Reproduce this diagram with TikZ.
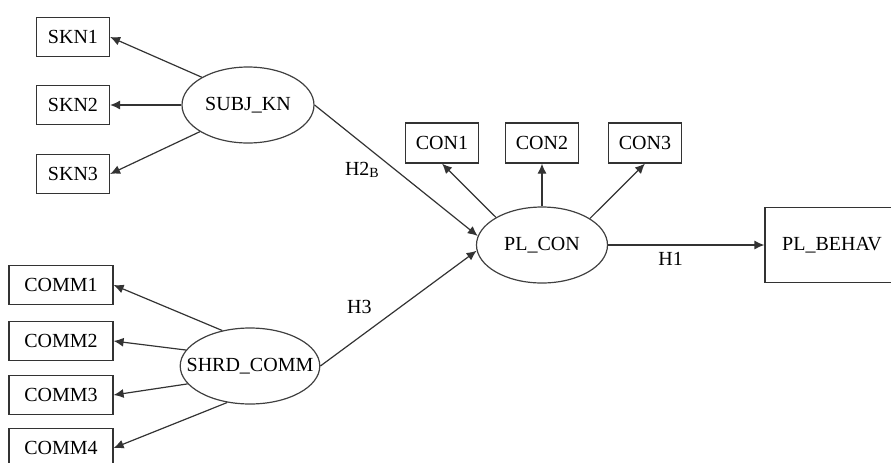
\documentclass[tikz,border=0pt]{standalone}
\usepackage{fontspec}
\setmainfont{Liberation Serif}
\usetikzlibrary{shapes.geometric, positioning, arrows.meta}

\begin{document}
\begin{tikzpicture}[x=0.5pt, y=-0.5pt, on grid, >={Latex[length=5pt,width=4.5pt]},
    every node/.style={font=\fontsize{10}{12}\selectfont},
    ind/.style={draw=black!80, line width=0.6pt, rectangle, inner sep=0pt, minimum height=19.5pt},
    skn/.style={ind, minimum width=36.5pt},
    comm/.style={ind, minimum width=52pt},
    con/.style={ind, minimum width=36.5pt, minimum height=20pt},
    latent/.style={draw=black!75, line width=0.6pt, ellipse, inner xsep=-7pt, inner ysep=0pt, minimum width=66pt, minimum height=38pt}]
        \useasboundingbox (0,0) rectangle (891,462);

        \node[latent] (subjkn) at (248,105) {SUBJ\_KN};
        \node[latent] (shrdcomm) at (250,366) {SHRD\_COMM};
        \node[latent, minimum width=65.5pt] (plcon) at (542,245) {PL\_CON};

        \node[skn] (skn2) [left=87.5pt of subjkn] {SKN2};
        \node[skn] (skn1) [above=34pt of skn2] {SKN1};
        \node[skn] (skn3) [below=34.5pt of skn2] {SKN3};

        \node[comm] (comm2) [above left=12.5pt and 94.5pt of shrdcomm] {COMM2};
        \node[comm] (comm1) [above=28pt of comm2] {COMM1};
        \node[comm] (comm3) [below=27pt of comm2] {COMM3};
        \node[comm] (comm4) [below=26.5pt of comm3] {COMM4};

        \node[con] (con2) [above=51pt of plcon] {CON2};
        \node[con] (con1) [left=50pt of con2] {CON1};
        \node[con] (con3) [right=51.5pt of con2] {CON3};

        \node[ind, minimum width=67pt, minimum height=37.5pt] (plbehav) [right=145pt of plcon] {PL\_BEHAV};

        \path[->, line width=0.6pt, every edge/.append style={draw=black!80}]
            (subjkn.149) edge (skn1.east)
            (subjkn) edge (skn2)
            (subjkn.209) edge (skn3.east)
            (shrdcomm.128) edge (comm1.east)
            (shrdcomm.166) edge (comm2.east)
            (shrdcomm.196) edge (comm3.east)
            (shrdcomm.238) edge (comm4.east)
            (plcon.149) edge (con1.south)
            (plcon) edge (con2)
            (plcon.29) edge (con3.south)
            (subjkn.east) edge node[pos=0.29, below=6pt] {H2\raisebox{-1pt}{\scriptsize B}} (plcon.172)
            (shrdcomm.east) edge node[pos=0.25, above=8pt] {H3} (plcon.185)
            (plcon) edge node[pos=0.4, below] {H1} (plbehav);
\end{tikzpicture}
\end{document}
